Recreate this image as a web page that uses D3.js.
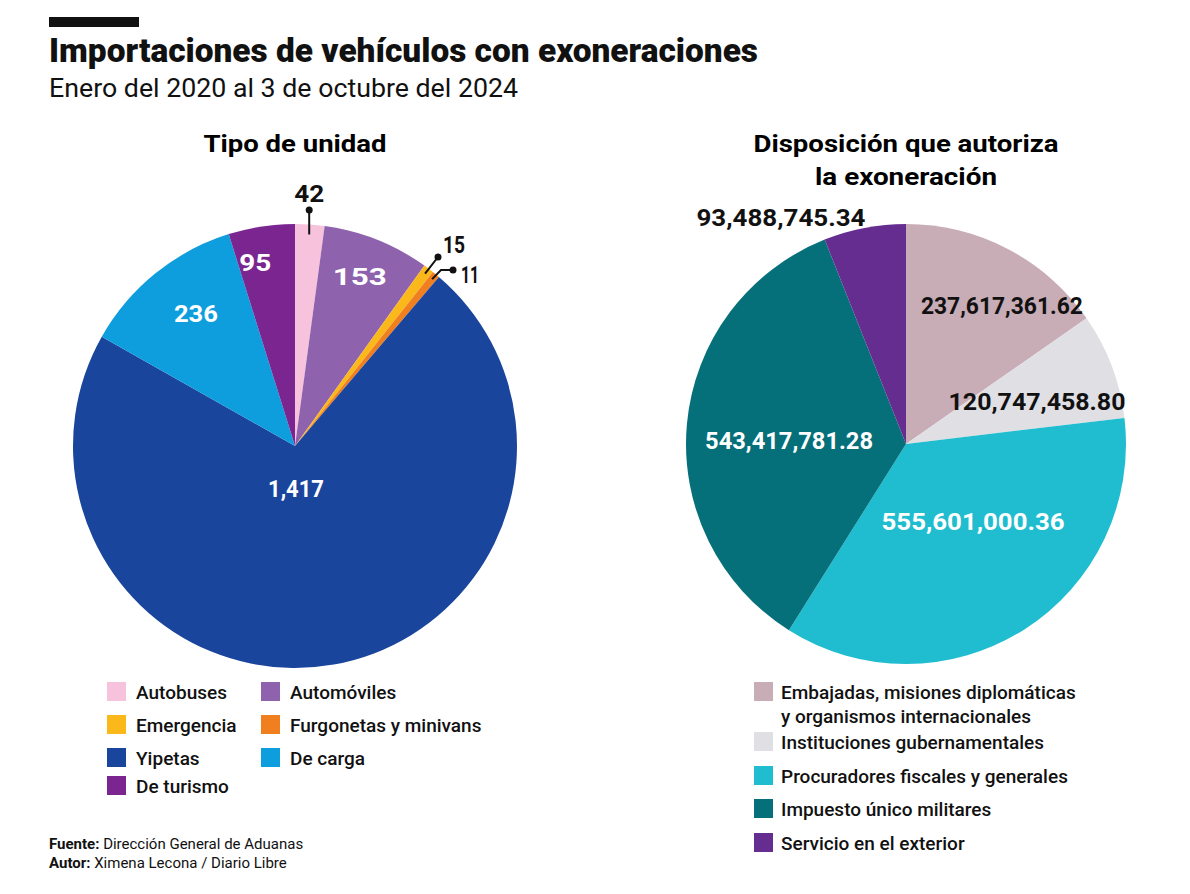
<!DOCTYPE html>
<html><head><meta charset="utf-8">
<script src="https://cdn.jsdelivr.net/npm/d3@7"></script>
<style>
body{margin:0;background:#fff;}
text{font-family:Roboto,"Noto Sans",sans-serif;}
</style></head>
<body><svg id="c" width="1190" height="894"></svg>
<script>
// ---- data ----
const unitCategories = ["Autobuses","Automóviles","Emergencia","Furgonetas y minivans","Yipetas","De carga","De turismo"];
const unitValues = [42,153,15,11,1417,236,95];
const unitLabels = ["42","153","15","11","1,417","236","95"];
const unitColors = ["#f6c2dc","#8e62ad","#fbb81b","#f07f1f","#1a459d","#0e9ddd","#7b2690"];
const unitLegendOrder = ["Autobuses","Automóviles","Emergencia","Furgonetas y minivans","Yipetas","De carga","De turismo"];

const dispCategories = ["Embajadas, misiones diplomáticas y organismos internacionales","Instituciones gubernamentales","Procuradores fiscales y generales","Impuesto único militares","Servicio en el exterior"];
const dispValues = [237617361.62,120747458.80,555601000.36,543417781.28,93488745.34];
const dispLabels = ["237,617,361.62","120,747,458.80","555,601,000.36","543,417,781.28","93,488,745.34"];
const dispColors = ["#c8acb6","#e0dfe4","#1fbdcf","#06707a","#652d90"];

// ---- layout ----
const svg = d3.select("#c");
svg.append("rect").attr("x",49).attr("y",17).attr("width",90).attr("height",10).attr("fill","#111");
svg.append("text").attr("x",49).attr("y",62).attr("font-size",33).attr("font-weight",900)
  .attr("textLength",709).attr("lengthAdjust","spacingAndGlyphs").attr("fill","#111")
  .text("Importaciones de vehículos con exoneraciones");
svg.append("text").attr("x",49).attr("y",97).attr("font-size",25).attr("font-weight",400)
  .attr("textLength",469).attr("lengthAdjust","spacingAndGlyphs").attr("fill","#111")
  .text("Enero del 2020 al 3 de octubre del 2024");

svg.append("text").attr("x",295).attr("y",152).attr("text-anchor","middle").attr("font-size",24).attr("font-weight",700)
  .attr("textLength",183).attr("lengthAdjust","spacingAndGlyphs").text("Tipo de unidad");
svg.append("text").attr("x",906).attr("y",152).attr("text-anchor","middle").attr("font-size",24).attr("font-weight",700)
  .attr("textLength",305).attr("lengthAdjust","spacingAndGlyphs").text("Disposición que autoriza");
svg.append("text").attr("x",906).attr("y",185).attr("text-anchor","middle").attr("font-size",24).attr("font-weight",700)
  .attr("textLength",182).attr("lengthAdjust","spacingAndGlyphs").text("la exoneración");

const pie = d3.pie().sort(null).value(d=>d);

// left pie
const L = {cx:295, cy:446, r:222};
const gL = svg.append("g").attr("transform",`translate(${L.cx},${L.cy})`);
const arcL = d3.arc().innerRadius(0).outerRadius(L.r);
const pL = pie(unitValues);
gL.selectAll("path").data(pL).join("path").attr("d",arcL).attr("fill",(d,i)=>unitColors[i]);

function polar(angleDeg, rad){ const a=angleDeg*Math.PI/180; return [rad*Math.sin(a), -rad*Math.cos(a)]; }
// label placements: [angleDeg, radius, color, width]
const unitLabelPos = {
  "153":[21,181,"#fff",54], "95":[-12.3,187,"#fff",32], "236":[-36.9,165,"#fff",44], "1,417":[178.7,43,"#fff",56]
};
pL.forEach((d,i)=>{
  const lab = unitLabels[i];
  if(unitLabelPos[lab]){
    const [a,rr,col,w] = unitLabelPos[lab];
    const [x,y] = polar(a,rr);
    gL.append("text").attr("x",x).attr("y",y+8).attr("text-anchor","middle").attr("font-size",23).attr("font-weight",700)
      .attr("fill",col).attr("textLength",w).attr("lengthAdjust","spacingAndGlyphs").text(lab);
  }
});
// callouts for small slices
function callout(g, pts, tx, ty, lab, w){
  g.append("path").attr("d",d3.line()(pts)).attr("fill","none").attr("stroke","#111").attr("stroke-width",2);
  const e = pts[0];
  g.append("circle").attr("cx",e[0]).attr("cy",e[1]).attr("r",3.5).attr("fill","#111");
  g.append("text").attr("x",tx).attr("y",ty).attr("font-size",24).attr("font-weight",700).attr("fill","#111")
    .attr("textLength",w).attr("lengthAdjust","spacingAndGlyphs").text(lab);
}
{
  const mid = d=> (d.startAngle+d.endAngle)/2*180/Math.PI;
  const a42 = mid(pL[0]);
  const p42 = polar(a42, L.r-10);
  callout(gL, [[p42[0], -236],[p42[0], p42[1]]], p42[0]-15, -244, "42", 30);
  const a15 = mid(pL[2]);
  const p15 = polar(a15, L.r-6);
  callout(gL, [[143,-189],[p15[0],p15[1]]], 148, -193, "15", 22);
  const a11 = mid(pL[3]);
  const p11 = polar(a11, L.r-6);
  callout(gL, [[158,-176],[146,-176],[p11[0],p11[1]]], 166, -163, "11", 18);
}

// right pie
const R = {cx:906, cy:444, r:220};
const gR = svg.append("g").attr("transform",`translate(${R.cx},${R.cy})`);
const arcR = d3.arc().innerRadius(0).outerRadius(R.r);
const pR = pie(dispValues);
gR.selectAll("path").data(pR).join("path").attr("d",arcR).attr("fill",(d,i)=>dispColors[i]);
const dispLabelPos = [[34.8,168,"#111",162],[72.2,137.6,"#111",177],[139.3,102.8,"#fff",183],[271.5,117,"#fff",168],[-29,258,"#111",169]];
pR.forEach((d,i)=>{
  const [a,rr,col,w] = dispLabelPos[i];
  const [x,y] = polar(a,rr);
  gR.append("text").attr("x",x).attr("y",y+8).attr("text-anchor","middle").attr("font-size",23).attr("font-weight",700)
    .attr("fill",col).attr("textLength",w).attr("lengthAdjust","spacingAndGlyphs").text(dispLabels[i]);
});

// left legend
const legL = [[107,692],[261,692],[107,725],[261,725],[107,758],[261,758],[107,786]];
unitLegendOrder.forEach((name,k)=>{
  const i = unitCategories.indexOf(name);
  const [x,y] = legL[k];
  svg.append("rect").attr("x",x).attr("y",y-10).attr("width",19).attr("height",19).attr("fill",unitColors[i]);
  svg.append("text").attr("x",x+29).attr("y",y+7).attr("font-size",19).attr("font-weight",500).attr("fill","#111").text(name);
});

// right legend
const legR = [692,742,776,809,843];
dispCategories.forEach((name,i)=>{
  const y = legR[i];
  svg.append("rect").attr("x",754).attr("y",y-10).attr("width",19).attr("height",19).attr("fill",dispColors[i]);
  if(i===0){
    svg.append("text").attr("x",781).attr("y",y+7).attr("font-size",19).attr("font-weight",500).attr("fill","#111").text("Embajadas, misiones diplomáticas");
    svg.append("text").attr("x",781).attr("y",y+31).attr("font-size",19).attr("font-weight",500).attr("fill","#111").text("y organismos internacionales");
  } else {
    svg.append("text").attr("x",781).attr("y",y+7).attr("font-size",19).attr("font-weight",500).attr("fill","#111").text(name);
  }
});

// footer
const f1 = svg.append("text").attr("x",49).attr("y",849).attr("font-size",15).attr("fill","#111");
f1.append("tspan").attr("font-weight",700).text("Fuente: ");
f1.append("tspan").text("Dirección General de Aduanas");
const f2 = svg.append("text").attr("x",49).attr("y",868).attr("font-size",15).attr("fill","#111");
f2.append("tspan").attr("font-weight",700).text("Autor: ");
f2.append("tspan").text("Ximena Lecona / Diario Libre");
</script></body></html>
